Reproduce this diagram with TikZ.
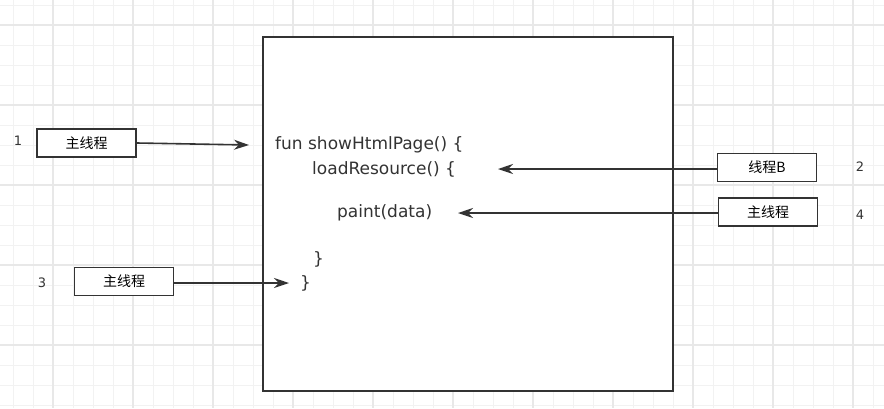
\documentclass[tikz,border=0pt]{standalone}
\usepackage{fontspec}
\setmainfont{Noto Sans CJK SC}
\newfontfamily\codefont{DejaVu Sans}
\usetikzlibrary{arrows.meta}
\definecolor{inkgray}{HTML}{333333}
\definecolor{minorline}{HTML}{F2F2F2}
\definecolor{majorline}{HTML}{E8E8E8}
\begin{document}
\begin{tikzpicture}[
        x=1pt, y=-1pt,
        >={Stealth[length=15pt, width=10pt]},
        minorgrid/.style={minorline, line width=1pt},
        majorgrid/.style={majorline, line width=1.4pt},
        thread/.style={draw=inkgray, line width=1.7pt, fill=white, minimum width=99pt, minimum height=28pt, inner sep=0pt, font=\fontsize{14}{16}\selectfont},
        code/.style={anchor=west, inner sep=0pt, text=inkgray, font=\codefont\fontsize{17}{20}\selectfont},
        num/.style={inner sep=0pt, text=inkgray, font=\codefont\fontsize{13}{15}\selectfont},
        link/.style={->, draw=inkgray, line width=1.6pt}
    ]
        \useasboundingbox (0,0) rectangle (884,408);

        % Grid
        \foreach \x in {13,33,...,873} \draw[minorgrid] (\x,0) -- (\x,408);
        \foreach \y in {5,25,...,405} \draw[minorgrid] (0,\y) -- (884,\y);
        \foreach \x in {53,133,...,853} \draw[majorgrid] (\x,0) -- (\x,408);
        \foreach \y in {25,105,...,345} \draw[majorgrid] (0,\y) -- (884,\y);

        % Function frame
        \draw[inkgray, line width=1.7pt, fill=white] (263,37) rectangle (673,391);

        % Code lines
        \node[code] (fun) at (275,145) {fun showHtmlPage() \{};
        \node[code] (load) at (312,169) {loadResource() \{};
        \node[code] (paint) at (337,213) {paint(data)};
        \node[code] (close1) at (313,259) {\}};
        \node[code] (close2) at (300,283) {\}};

        % Threads
        \node[thread] (t1) at (86.5,143) {主线程};
        \node[thread] (t2) at (767,167.5) {线程B};
        \node[thread] (t3) at (124,281.5) {主线程};
        \node[thread] (t4) at (768,212) {主线程};

        \node[num] (n1) at (18,141) {1};
        \node[num] (n2) at (860,167) {2};
        \node[num] (n3) at (42,283) {3};
        \node[num] (n4) at (860,215) {4};

        % Arrows
        \coordinate (e1) at (249,145);
        \coordinate (e2) at (498,169);
        \coordinate (e3) at (289,283);
        \coordinate (e4) at (458,213);
        \draw[link] (t1.east) -- (e1);
        \draw[link] (t2.west |- e2) -- (e2);
        \draw[link] (t3.east |- e3) -- (e3);
        \draw[link] (t4.west |- e4) -- (e4);
    \end{tikzpicture}
\end{document}
